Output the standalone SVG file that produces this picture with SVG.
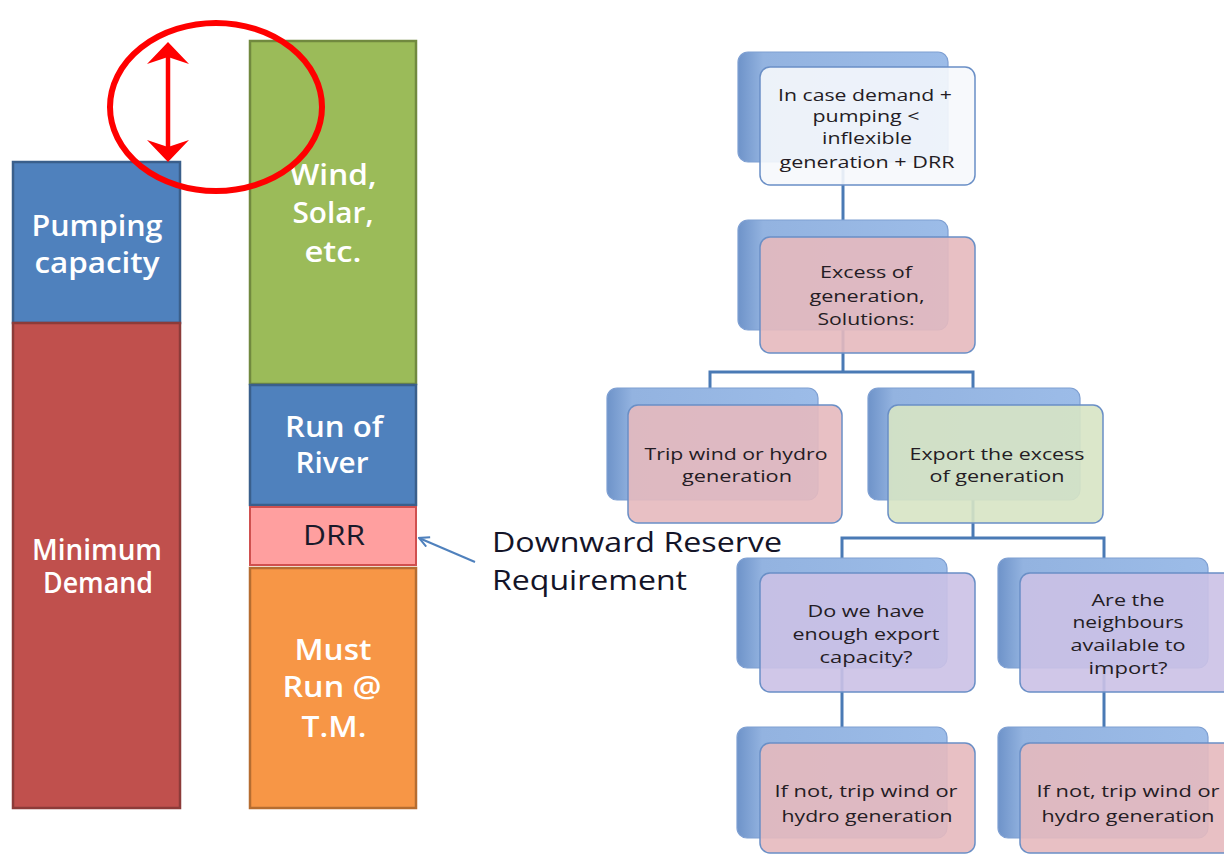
<svg xmlns="http://www.w3.org/2000/svg" width="1224" height="855" viewBox="0 0 1224 855">
<style>
.bt{font-family:"Open Sans","Liberation Sans",sans-serif;font-size:28px;font-weight:600;fill:#ffffff;text-anchor:middle}
.dk{fill:#1a1a2a;font-weight:500}
.ft{font-family:"Open Sans","Liberation Sans",sans-serif;font-size:17px;font-weight:500;fill:#241c24;text-anchor:middle}
.lbl{font-family:"Open Sans","Liberation Sans",sans-serif;font-size:28px;font-weight:500;fill:#141428}
.back{fill:url(#bg);stroke:#7E9FD2;stroke-width:1.2}
.front{stroke:#6A8FC6;stroke-width:1.5;fill-opacity:0.9}
.conn{fill:none;stroke:#4A7AB5;stroke-width:3}
</style>
<defs>
<linearGradient id="bg" x1="0" y1="0" x2="1" y2="0">
<stop offset="0" stop-color="#6E93C9"/>
<stop offset="0.12" stop-color="#93B3E0"/>
<stop offset="1" stop-color="#9CBCE8"/>
</linearGradient>
<marker id="open" viewBox="0 0 12 12" refX="11" refY="6" markerWidth="12" markerHeight="12" markerUnits="userSpaceOnUse" orient="auto">
<path d="M1 1 L11 6 L1 11" fill="none" stroke="#4F81BD" stroke-width="2"/>
</marker>
</defs>

<g id="bar-pumping">
<rect x="13" y="162" width="167" height="161" fill="#4F81BD" stroke="#3A5F8B" stroke-width="2.5"/>
<text class="bt" x="97" y="236" textLength="131" lengthAdjust="spacingAndGlyphs">Pumping</text>
<text class="bt" x="97" y="273" textLength="125" lengthAdjust="spacingAndGlyphs">capacity</text>
</g>
<g id="bar-min-demand">
<rect x="13" y="323" width="167" height="485" fill="#C0504D" stroke="#8C3B39" stroke-width="2.5"/>
<text class="bt" x="97" y="560" font-size="23" textLength="130" lengthAdjust="spacingAndGlyphs">Minimum</text>
<text class="bt" x="98" y="593" font-size="23" textLength="110" lengthAdjust="spacingAndGlyphs">Demand</text>
</g>
<g id="bar-wind">
<rect x="250" y="41" width="166" height="343" fill="#9BBB59" stroke="#71893F" stroke-width="2.5"/>
<text class="bt" x="333" y="185" textLength="87" lengthAdjust="spacingAndGlyphs">Wind,</text>
<text class="bt" x="333" y="223" textLength="81" lengthAdjust="spacingAndGlyphs">Solar,</text>
<text class="bt" x="333" y="262" textLength="57" lengthAdjust="spacingAndGlyphs">etc.</text>
</g>
<g id="bar-river">
<rect x="250" y="385" width="166" height="120" fill="#4F81BD" stroke="#3A5F8B" stroke-width="2.5"/>
<text class="bt" x="334" y="437" textLength="98" lengthAdjust="spacingAndGlyphs">Run of</text>
<text class="bt" x="332" y="473" textLength="73" lengthAdjust="spacingAndGlyphs">River</text>
</g>
<g id="bar-drr">
<rect x="250" y="507" width="166" height="58" fill="#FF9F9F" stroke="#D0504F" stroke-width="2"/>
<text class="bt dk" x="334" y="545" textLength="62" lengthAdjust="spacingAndGlyphs">DRR</text>
</g>
<g id="bar-mustrun">
<rect x="250" y="568" width="166" height="240" fill="#F79646" stroke="#B66D31" stroke-width="2.5"/>
<text class="bt" x="333" y="660" textLength="77" lengthAdjust="spacingAndGlyphs">Must</text>
<text class="bt" x="332" y="697" textLength="99" lengthAdjust="spacingAndGlyphs">Run @</text>
<text class="bt" x="334" y="737" textLength="65" lengthAdjust="spacingAndGlyphs">T.M.</text>
</g>

<g id="highlight">
<ellipse cx="216" cy="107" rx="106" ry="84" fill="none" stroke="#FF0000" stroke-width="6"/>
<line x1="168" y1="55" x2="168" y2="150" stroke="#FF0000" stroke-width="4.5"/>
<path d="M168 42 L189 64 L168 57 L147 64 Z" fill="#FF0000"/>
<path d="M168 162 L189 140 L168 147 L147 140 Z" fill="#FF0000"/>
</g>

<g id="drr-label">
<line x1="475" y1="562" x2="419" y2="538" stroke="#4F81BD" stroke-width="2" marker-end="url(#open)"/>
<text class="lbl" x="492" y="552" textLength="290" lengthAdjust="spacingAndGlyphs">Downward Reserve</text>
<text class="lbl" x="492" y="590" textLength="195" lengthAdjust="spacingAndGlyphs">Requirement</text>
</g>

<g id="connectors">
<path class="conn" d="M843 150 V237"/>
<path class="conn" d="M843 330 V372 H710 V388 M843 372 H973 V388"/>
<path class="conn" d="M973 500 V538 H842 V558 M973 538 H1104 V558"/>
<path class="conn" d="M842 668 V727 M1104 668 V727"/>
</g>

<g id="n-case">
<rect class="back" x="738" y="52" width="210" height="110" rx="10"/>
<rect class="front" x="760" y="67" width="215" height="118" rx="10" fill="#F6F8FC"/>
<text class="ft" x="865" y="101" textLength="174" lengthAdjust="spacingAndGlyphs">In case demand +</text>
<text class="ft" x="866" y="122" textLength="107" lengthAdjust="spacingAndGlyphs">pumping &lt;</text>
<text class="ft" x="867" y="144" textLength="90" lengthAdjust="spacingAndGlyphs">inflexible</text>
<text class="ft" x="867" y="168" textLength="175" lengthAdjust="spacingAndGlyphs">generation + DRR</text>
</g>
<g id="n-excess">
<rect class="back" x="738" y="220" width="210" height="110" rx="10"/>
<rect class="front" x="760" y="237" width="215" height="116" rx="10" fill="#E6B9BE"/>
<text class="ft" x="866" y="278" textLength="92" lengthAdjust="spacingAndGlyphs">Excess of</text>
<text class="ft" x="867" y="302" textLength="115" lengthAdjust="spacingAndGlyphs">generation,</text>
<text class="ft" x="866" y="325" textLength="97" lengthAdjust="spacingAndGlyphs">Solutions:</text>
</g>
<g id="n-trip">
<rect class="back" x="607" y="388" width="211" height="112" rx="10"/>
<rect class="front" x="628" y="405" width="214" height="118" rx="10" fill="#E6B9BE"/>
<text class="ft" x="736" y="460" textLength="183" lengthAdjust="spacingAndGlyphs">Trip wind or hydro</text>
<text class="ft" x="737" y="482" textLength="110" lengthAdjust="spacingAndGlyphs">generation</text>
</g>
<g id="n-export">
<rect class="back" x="868" y="388" width="212" height="112" rx="10"/>
<rect class="front" x="888" y="405" width="215" height="118" rx="10" fill="#D7E4C4"/>
<text class="ft" x="997" y="460" textLength="175" lengthAdjust="spacingAndGlyphs">Export the excess</text>
<text class="ft" x="997" y="482" textLength="135" lengthAdjust="spacingAndGlyphs">of generation</text>
</g>
<g id="n-capacity">
<rect class="back" x="737" y="558" width="210" height="110" rx="10"/>
<rect class="front" x="760" y="573" width="215" height="119" rx="10" fill="#CBC1E6"/>
<text class="ft" x="866" y="617" textLength="117" lengthAdjust="spacingAndGlyphs">Do we have</text>
<text class="ft" x="866" y="640" textLength="147" lengthAdjust="spacingAndGlyphs">enough export</text>
<text class="ft" x="866" y="663" textLength="93" lengthAdjust="spacingAndGlyphs">capacity?</text>
</g>
<g id="n-neighbours">
<rect class="back" x="998" y="558" width="210" height="110" rx="10"/>
<rect class="front" x="1020" y="573" width="215" height="119" rx="10" fill="#CBC1E6"/>
<text class="ft" x="1128" y="606" textLength="73" lengthAdjust="spacingAndGlyphs">Are the</text>
<text class="ft" x="1128" y="628" textLength="111" lengthAdjust="spacingAndGlyphs">neighbours</text>
<text class="ft" x="1128" y="651" textLength="115" lengthAdjust="spacingAndGlyphs">available to</text>
<text class="ft" x="1128" y="674" textLength="79" lengthAdjust="spacingAndGlyphs">import?</text>
</g>
<g id="n-trip-left">
<rect class="back" x="737" y="727" width="210" height="111" rx="10"/>
<rect class="front" x="760" y="743" width="215" height="110" rx="10" fill="#E6B9BE"/>
<text class="ft" x="866" y="797" textLength="183" lengthAdjust="spacingAndGlyphs">If not, trip wind or</text>
<text class="ft" x="867" y="822" textLength="171" lengthAdjust="spacingAndGlyphs">hydro generation</text>
</g>
<g id="n-trip-right">
<rect class="back" x="998" y="727" width="210" height="111" rx="10"/>
<rect class="front" x="1020" y="743" width="215" height="110" rx="10" fill="#E6B9BE"/>
<text class="ft" x="1128" y="797" textLength="183" lengthAdjust="spacingAndGlyphs">If not, trip wind or</text>
<text class="ft" x="1128" y="822" textLength="173" lengthAdjust="spacingAndGlyphs">hydro generation</text>
</g>
</svg>
